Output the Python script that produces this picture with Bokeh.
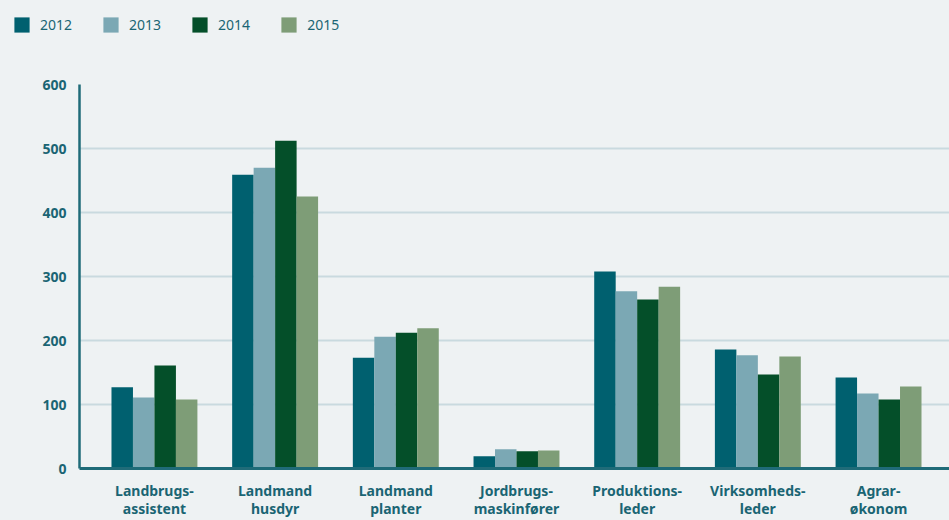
from bokeh.plotting import figure
from bokeh.layouts import column
from bokeh.models import FixedTicker, Legend, LegendItem, Range1d
from bokeh.embed import file_html
from bokeh.resources import INLINE

categories = ["Landbrugs-\nassistent", "Landmand\nhusdyr", "Landmand\nplanter",
              "Jordbrugs-\nmaskinfører", "Produktions-\nleder", "Virksomheds-\nleder",
              "Agrar-\nøkonom"]
years = ["2012", "2013", "2014", "2015"]
v2012 = [127, 459, 173, 19, 308, 186, 142]
v2013 = [111, 470, 206, 30, 277, 177, 117]
v2014 = [161, 512, 212, 27, 264, 147, 108]
v2015 = [108, 425, 219, 28, 284, 175, 128]
series = [v2012, v2013, v2014, v2015]
y_ticks = [0, 100, 200, 300, 400, 500, 600]
colors = ["#00606F", "#7BA8B4", "#044F29", "#7E9D77"]

BG = "#EEF2F3"
TEAL = "#1A6573"
FONT = "Noto Sans"
w = 0.178

# ---- legend strip (its bars lie below the visible range; only the legend shows) ----
leg = figure(width=949, height=41, output_backend="svg", toolbar_location=None,
             x_range=Range1d(-0.621, 6.588), y_range=Range1d(1000, 1001),
             min_border_left=0, min_border_right=0, min_border_top=0, min_border_bottom=0)
leg.frame_align = False
leg.axis.visible = False
leg.grid.visible = False
leg.outline_line_color = None
leg.background_fill_color = BG
leg.border_fill_color = BG
items = []
for i, (yr, vals, col) in enumerate(zip(years, series, colors)):
    xs = [k + (i - 1.5) * w for k in range(len(categories))]
    r = leg.vbar(x=xs, top=vals, width=w, bottom=0, fill_color=col, line_color=None)
    items.append(LegendItem(label=yr, renderers=[r]))
legend = Legend(items=items, orientation="horizontal", location=(12, 7),
                glyph_width=19, glyph_height=19, label_standoff=9, spacing=29,
                padding=0, margin=0, background_fill_alpha=0, border_line_alpha=0,
                label_text_font=FONT, label_text_font_size="14px",
                label_text_color=TEAL)
leg.add_layout(legend)

# ---- main chart ----
p = figure(width=949, height=480, output_backend="svg", toolbar_location=None,
           x_range=Range1d(-0.621, 6.588), y_range=Range1d(0, 600),
           min_border_left=79, min_border_right=0, min_border_top=43, min_border_bottom=53)
p.frame_align = False
p.background_fill_color = BG
p.border_fill_color = BG
p.outline_line_color = None

for i, (yr, vals, col) in enumerate(zip(years, series, colors)):
    xs = [k + (i - 1.5) * w for k in range(len(categories))]
    p.vbar(x=xs, top=vals, width=w, bottom=0, fill_color=col, line_color=None)

p.xgrid.grid_line_color = None
p.ygrid.ticker = FixedTicker(ticks=y_ticks)
p.ygrid.grid_line_color = "#C9DADF"
p.ygrid.grid_line_width = 2

p.yaxis.ticker = FixedTicker(ticks=y_ticks)
p.yaxis.axis_line_color = "#1F6B78"
p.yaxis.axis_line_width = 2.5
p.yaxis.major_tick_line_color = None
p.yaxis.minor_tick_line_color = None
p.yaxis.major_label_text_font = FONT
p.yaxis.major_label_text_font_style = "bold"
p.yaxis.major_label_text_font_size = "14px"
p.yaxis.major_label_text_color = TEAL
p.yaxis.major_label_text_baseline = "alphabetic"
p.yaxis.major_label_standoff = 7

p.xaxis.ticker = FixedTicker(ticks=list(range(len(categories))))
p.xaxis.major_label_overrides = {k: c for k, c in enumerate(categories)}
p.xaxis.axis_line_color = "#1F6B78"
p.xaxis.axis_line_width = 3
p.xaxis.major_tick_line_color = None
p.xaxis.minor_tick_line_color = None
p.xaxis.major_label_text_font = FONT
p.xaxis.major_label_text_font_style = "bold"
p.xaxis.major_label_text_font_size = "14px"
p.xaxis.major_label_text_color = TEAL
p.xaxis.major_label_standoff = 6
p.xaxis.major_label_text_line_height = 0.95

layout = column(leg, p, spacing=-1, styles={"background-color": BG})
open("out.html", "w").write(file_html(layout, INLINE))
